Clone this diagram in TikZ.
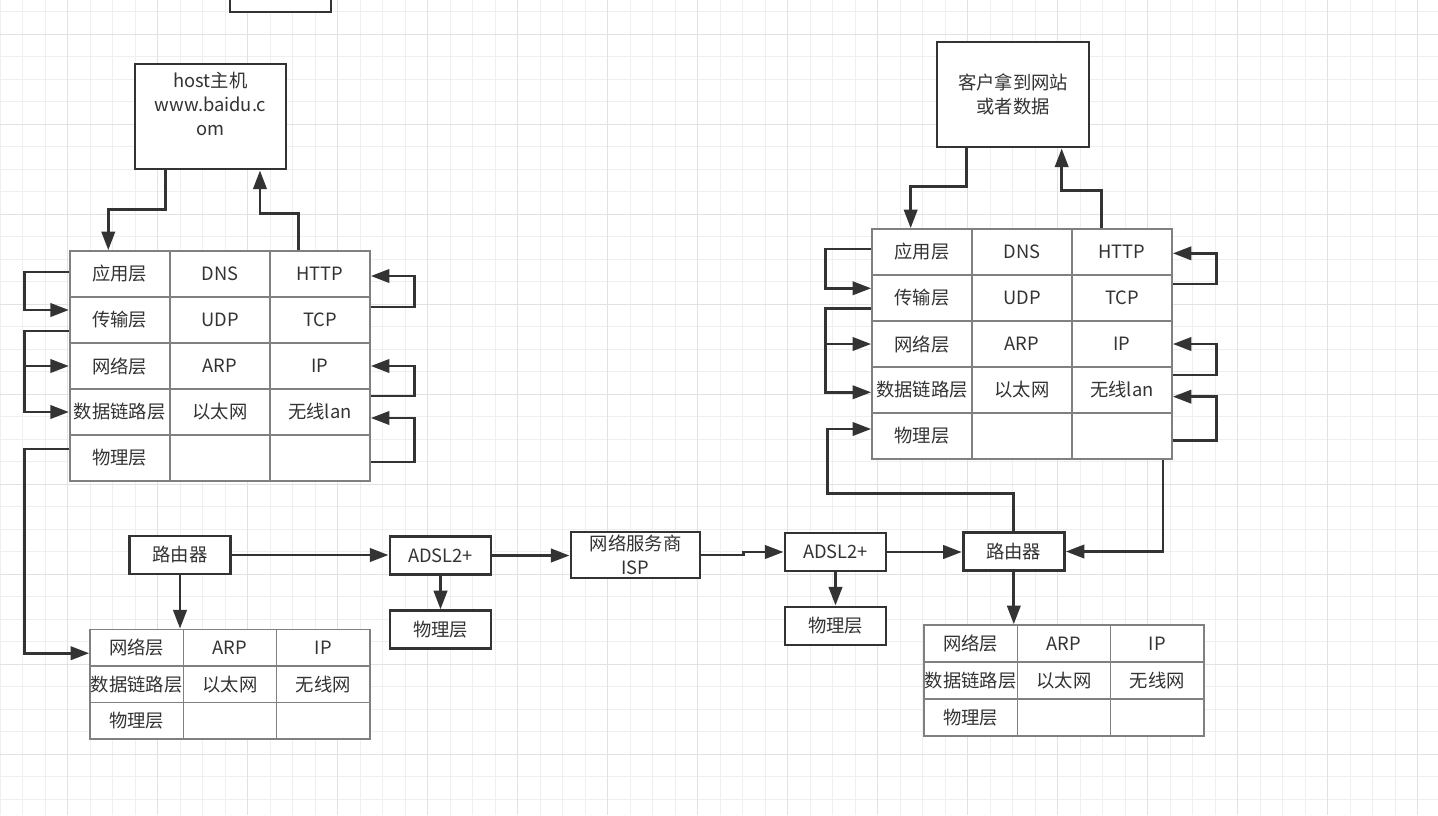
\documentclass[tikz,border=0pt]{standalone}
\usepackage{fontspec}
\setmainfont{Noto Sans CJK SC}
\usetikzlibrary{arrows.meta,calc}
\definecolor{ink}{HTML}{333333}
\definecolor{tabline}{HTML}{808080}
\definecolor{gridthin}{HTML}{EFEFEF}
\definecolor{gridthick}{HTML}{E2E2E2}
\begin{document}
\begin{tikzpicture}[x=0.75pt,y=-0.75pt,
  txt/.style={font=\fontsize{13.75}{18}\selectfont, text=ink},
  cell/.style={draw=tabline, fill=white, line width=1.2pt, txt, inner sep=0pt, minimum width=75pt, minimum height=34.5pt},
  scell/.style={cell, minimum width=70pt, minimum height=27.5pt},
  box/.style={draw=ink, fill=white, line width=2.2pt, txt, inner sep=0pt, align=center},
  conn/.style={draw=ink, line width=2.2pt, -{Triangle[length=14pt,width=10pt]}},
]
\useasboundingbox[fill=white] (0,0) rectangle (1438,815);
% grid
\foreach \i in {0,...,63} \draw[gridthin, line width=0.9pt] ({0.2+22.5*\i},0) -- ++(0,815);
\foreach \i in {0,...,36} \draw[gridthin, line width=0.9pt] (0,{11.8+22.5*\i}) -- ++(1438,0);
\foreach \i in {0,...,15} \draw[gridthick, line width=1.1pt] ({67.7+90*\i},0) -- ++(0,815);
\foreach \i in {0,...,8} \draw[gridthick, line width=1.1pt] (0,{34.3+90*\i}) -- ++(1438,0);

% tables
\foreach \r/\a/\b/\c in {1/应用层/DNS/HTTP, 2/传输层/UDP/TCP, 3/网络层/ARP/IP, 4/数据链路层/以太网/无线lan, 5/物理层//}{
  \node[cell] (L\r1) at (119.75,{274+46*(\r-1)}) {\a};
  \node[cell] (L\r2) at (220,{274+46*(\r-1)}) {\b};
  \node[cell] (L\r3) at (320,{274+46*(\r-1)}) {\c};
  \node[cell] (R\r1) at (922,{252+46*(\r-1)}) {\a};
  \node[cell] (R\r2) at (1022,{252+46*(\r-1)}) {\b};
  \node[cell] (R\r3) at (1122,{252+46*(\r-1)}) {\c};
}
\foreach \r/\a/\b/\c in {1/网络层/ARP/IP, 2/数据链路层/以太网/无线网, 3/物理层//}{
  \node[scell] (B\r1) at (136.7,{647.75+36.5*(\r-1)}) {\a};
  \node[scell] (B\r2) at (230,{647.75+36.5*(\r-1)}) {\b};
  \node[scell] (B\r3) at (323.3,{647.75+36.5*(\r-1)}) {\c};
  \node[scell, minimum height=27.75pt] (D\r1) at (970.7,{643.5+37*(\r-1)}) {\a};
  \node[scell, minimum height=27.75pt] (D\r2) at (1064,{643.5+37*(\r-1)}) {\b};
  \node[scell, minimum height=27.75pt] (D\r3) at (1157.3,{643.5+37*(\r-1)}) {\c};
}

% boxes
\node[box, minimum width=75.75pt, minimum height=48pt] (topbox) at (280.5,-20) {};
\node[box, minimum width=113.25pt, minimum height=78.75pt,
  label={[txt, align=center, anchor=north, inner sep=0pt, yshift=-7pt]north:host主机\\www.baidu.c\\om}] (host) at (210.5,116.5) {};
\node[box, minimum width=114pt, minimum height=78.75pt] (cb) at (1013,94.5) {客户拿到网站\\或者数据};
\node[box, minimum width=76pt, minimum height=28.5pt] (lr) at (180,555) {路由器};
\node[box, minimum width=75.75pt, minimum height=28pt] (ad1) at (440.5,555.5) {ADSL2+};
\node[box, minimum width=75.75pt, minimum height=28pt] (ph1) at (440.5,629.5) {物理层};
\node[box, minimum width=96.75pt, minimum height=34.5pt] (isp) at (635.5,555) {网络服务商\\ISP};
\node[box, minimum width=75.75pt, minimum height=28.5pt] (ad2) at (835.5,552) {ADSL2+};
\node[box, minimum width=75.75pt, minimum height=28.5pt] (ph2) at (835.5,626) {物理层};
\node[box, minimum width=75.75pt, minimum height=28.8pt] (rr) at (1013.8,551.5) {路由器};

% host connectors
\draw[conn] ([xshift=-33.6pt]host.south) -- ++(0,39.3) -| ([xshift=-8.6pt]L11.north);
\draw[conn] ([xshift=-16.3pt]L13.north) -- ++(0,-36.7) -| ([xshift=37.1pt]host.south);
% left table loops
\draw[conn] ([yshift=1.5pt]L11.west) -- ++(-44.5,0) |- ([yshift=7.5pt]L21.west);
\draw[conn] ([yshift=-8.25pt]L21.west) -- ++(-44.5,0) |- (L41.west);
\coordinate (lbr) at ([xshift=-33.4pt]L31.west);
\draw[conn] (lbr) -- (L31.west);
\draw[conn] ([yshift=6.75pt]L51.west) -- ++(-44.5,0) |- ([yshift=-4.1pt]B11.west);
\draw[conn] ([yshift=9.75pt]L23.east) -- ++(44,0) |- ([yshift=-1.5pt]L13.east);
\draw[conn] ([yshift=12pt]L43.east) -- ++(44,0) |- (L33.east);
\draw[conn] ([yshift=-3pt]L53.east) -- ++(44,0) |- ([yshift=-4.5pt]L43.east);
% bottom chain
\draw[conn] (lr.south) -- (lr.south |- B11.north);
\draw[conn] (lr.east) -- (lr.east -| ad1.west);
\draw[conn] (ad1.east) -- (ad1.east -| isp.west);
\draw[conn] (ad1.south) -- (ph1.north);
\draw[conn] (isp.east) -- ++(42,0) |- (ad2.west);
\draw[conn] (ad2.south) -- (ph2.north);
\draw[conn] (ad2.east) -- (ad2.east -| rr.west);
\draw[conn] ([xshift=30.75pt]R53.south) |- (rr.east);
\draw[conn] (rr.north) -- ++(0,-37.3) -- ++(-186,0) |- ([yshift=5.25pt]R51.west);
\draw[conn] (rr.south) -- (rr.south |- D11.north);
% top right
\draw[conn] ([xshift=-34.7pt]cb.south) -- ++(0,38.3) -| ([xshift=-8.5pt]R11.north);
\draw[conn] ([xshift=-15.2pt]R13.north) -- ++(0,-37.3) -| ([xshift=36.5pt]cb.south);
% right table loops
\draw[conn] ([yshift=2.25pt]R11.west) -- ++(-45.3,0) |- ([yshift=7.3pt]R21.west);
\draw[conn] ([yshift=-7.7pt]R21.west) -- ++(-45.3,0) |- ([yshift=-1.7pt]R41.west);
\coordinate (rbr) at ([xshift=-34pt]R31.west);
\draw[conn] (rbr) -- (R31.west);
\draw[conn] ([yshift=10.5pt]R23.east) -- ++(44,0) |- ([yshift=-1pt]R13.east);
\draw[conn] ([yshift=11.25pt]R43.east) -- ++(44,0) |- (R33.east);
\draw[conn] ([yshift=-3.5pt]R53.east) -- ++(44,0) |- ([yshift=-5pt]R43.east);
\end{tikzpicture}
\end{document}
